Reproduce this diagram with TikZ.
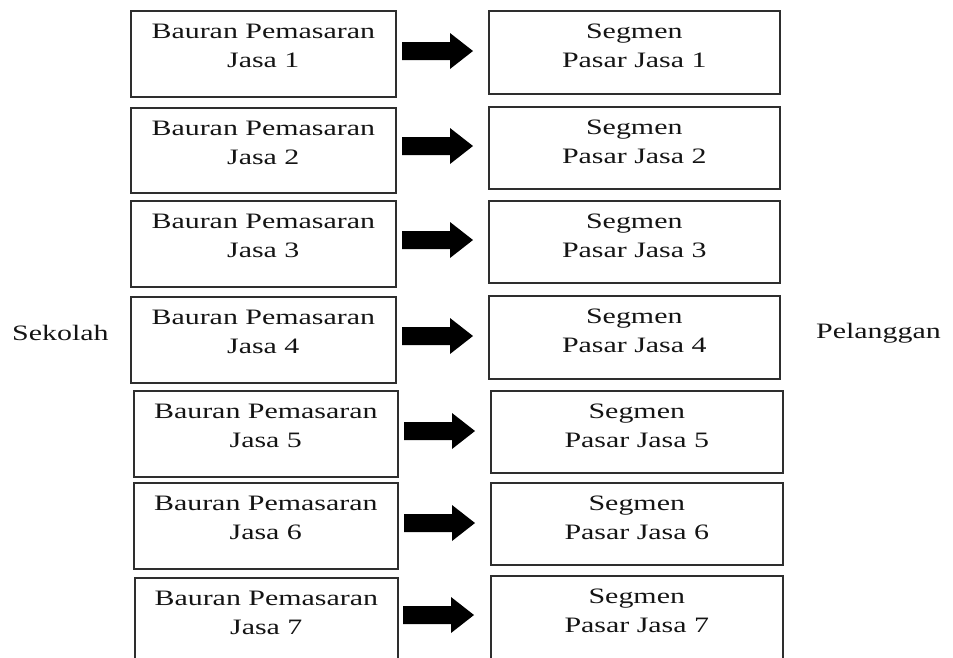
\documentclass[tikz,border=0pt]{standalone}
\usepackage{fontspec}
\setmainfont{Liberation Serif}[FakeStretch=1.36]
\usetikzlibrary{calc}

\tikzset{
  boxframe/.style={draw=black!82, line width=1.6pt, rectangle, inner sep=0pt, anchor=north west},
  boxtext/.style={anchor=north, inner sep=0pt, align=center, text=black!92,
                  font=\fontsize{22}{29}\selectfont},
  sidetext/.style={anchor=base west, inner sep=0pt, text=black!92,
                   font=\fontsize{22}{29}\selectfont},
  blockarrow/.style={fill=black}
}

\begin{document}
\begin{tikzpicture}[x=1pt, y=-1pt]
  \useasboundingbox (0,0) rectangle (953,657);
  \clip (0,0) rectangle (953,657);

  % one row per service: left box, right box, arrow between them
  \foreach \i/\lx/\ly/\lw/\lh/\rx/\ry/\rw/\rh/\ax/\ay in {
      1/130/10/265/86/488/10/291/83/402/51,
      2/130/107/265/85/488/106/291/82/402/146,
      3/130/200/265/86/488/200/291/82/402/240,
      4/130/296/265/86/488/295/291/83/402/336,
      5/133/390/264/86/490/390/292/82/404/431,
      6/133/482/264/86/490/482/292/82/404/523,
      7/134/577/263/86/490/575/292/88/403/615}{
    \node[boxframe, minimum width=\lw pt, minimum height=\lh pt] (l\i) at (\lx,\ly) {};
    \node[boxframe, minimum width=\rw pt, minimum height=\rh pt] (r\i) at (\rx,\ry) {};
    \node[boxtext] (lt\i) at ($(l\i.north)+(0,13.5)$) {Bauran Pemasaran\\Jasa \i};
    \node[boxtext] (rt\i) at ($(r\i.north)+(0,13.5)$) {Segmen\\Pasar Jasa \i};
    \coordinate (a\i) at (\ax,\ay);
    \fill[blockarrow] (a\i) ++(0,-9) -- ++(48,0) -- ++(0,-9) -- ++(23,18)
      -- ++(-23,18) -- ++(0,-9) -- ++(-48,0) -- cycle;
  }

  \node[sidetext] (school) at (12,340) {Sekolah};
  \node[sidetext] (customer) at (816,338) {Pelanggan};
\end{tikzpicture}
\end{document}
